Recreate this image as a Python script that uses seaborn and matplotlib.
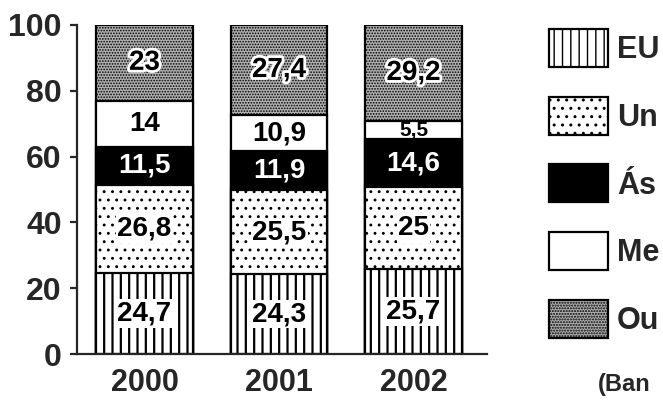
import numpy as np
import pandas as pd
import matplotlib
matplotlib.use('Agg')
import matplotlib.pyplot as plt
import matplotlib.patheffects as pe
from matplotlib.patches import Patch
import seaborn as sns

# Dados (percentuais por ano)
anos = ['2000', '2001', '2002']
eu = [24.7, 24.3, 25.7]
un = [26.8, 25.5, 25.0]
asia = [11.5, 11.9, 14.6]
me = [14.0, 10.9, 5.5]
ou = [23.0, 27.4, 29.2]
legenda = ['EU', 'Un', 'Ás', 'Me', 'Ou']
fonte = '(Ban'

sns.set_style('white')
plt.rcParams['font.family'] = ['Liberation Sans', 'DejaVu Sans']

camadas = [eu, un, asia, me, ou]
estilos = [
    dict(color='white', hatch='||', hlw=1.6),
    dict(color='white', hatch='..', hlw=0.9),
    dict(color='black', hatch=None, hlw=1.0),
    dict(color='white', hatch=None, hlw=1.0),
    dict(color='#b0b0b0', hatch='......', hlw=0.8),
]

fig = plt.figure(figsize=(6.63, 4.01), dpi=100)
ax = fig.add_axes([77 / 663, 47 / 401, 410 / 663, 329 / 401])

# Barras empilhadas: desenhar acumulados do topo para baixo
acum = np.cumsum(np.array(camadas), axis=0)
for k in range(len(camadas) - 1, -1, -1):
    df = pd.DataFrame({'ano': anos, 'v': acum[k]})
    st = estilos[k]
    with plt.rc_context({'hatch.linewidth': st['hlw']}):
        sns.barplot(data=df, x='ano', y='v', ax=ax, color=st['color'], saturation=1,
                    width=0.72, edgecolor='black', linewidth=1.6, hatch=st['hatch'])

# Rotulos dos segmentos
for k, serie in enumerate(camadas):
    base = acum[k] - np.array(serie)
    for i, v in enumerate(serie):
        txt = f'{v:g}'.replace('.', ',')
        y = base[i] + v / 2
        kw = dict(ha='center', va='center', fontweight='bold',
                  fontsize=20 if v > 8 else 15)
        if k == 2:
            ax.text(i, y, txt, color='white', **kw)
        elif k == 3:
            ax.text(i, y, txt, color='black', **kw)
        elif k == 4:
            ax.text(i, y, txt, color='black',
                    path_effects=[pe.withStroke(linewidth=4, foreground='white')], **kw)
        else:
            ax.text(i, y, txt, color='black',
                    bbox=dict(facecolor='white', edgecolor='none', pad=1), **kw)

ax.set_xlim(-0.502, 2.546)
ax.set_ylim(0, 100)
ax.set_yticks([0, 20, 40, 60, 80, 100])
ax.set_xlabel('')
ax.set_ylabel('')
sns.despine(ax=ax)
ax.spines['left'].set_linewidth(1.6)
ax.spines['bottom'].set_linewidth(1.6)
ax.tick_params(axis='y', length=5, width=1.6, pad=6, left=True, direction='out')
ax.tick_params(axis='x', length=0, pad=10)
for t in ax.get_yticklabels():
    t.set_fontsize(23)
    t.set_fontweight('bold')
for t in ax.get_xticklabels():
    t.set_fontsize(22)
    t.set_fontweight('bold')

# Legenda
handles = []
for st in estilos:
    with plt.rc_context({'hatch.linewidth': st['hlw']}):
        handles.append(Patch(facecolor=st['color'], edgecolor='black', linewidth=1.6,
                             hatch=st['hatch']))
leg = fig.legend(handles, legenda, loc='upper left', bbox_to_anchor=(549 / 663, 1 - 29 / 401),
                 frameon=False, borderpad=0, borderaxespad=0, handlelength=1.93,
                 handleheight=1.54, handletextpad=0.3, labelspacing=0.97,
                 prop=dict(weight='bold', size=22))

fig.text(598 / 663, 1 - 385 / 401, fonte, ha='left', va='center', fontsize=17,
         fontweight='bold')

fig.savefig('out.png', dpi=100)
